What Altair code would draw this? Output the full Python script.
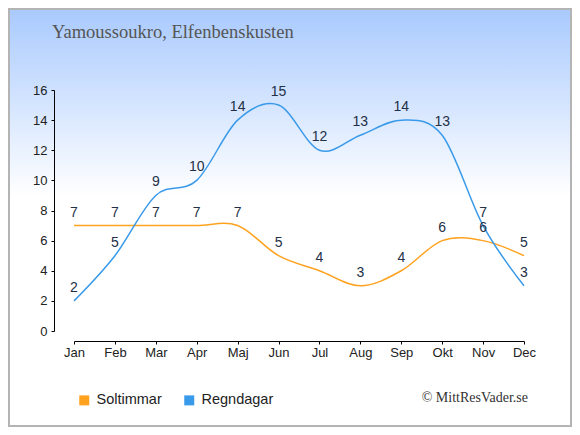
import altair as alt
import pandas as pd

months = ["Jan", "Feb", "Mar", "Apr", "Maj", "Jun", "Jul", "Aug", "Sep", "Okt", "Nov", "Dec"]
soltimmar = [7, 7, 7, 7, 7, 5, 4, 3, 4, 6, 6, 5]
regndagar = [2, 5, 9, 10, 14, 15, 12, 13, 14, 13, 7, 3]
series_names = ["Soltimmar", "Regndagar"]
series_colors = ["#FFA21F", "#3A9AEA"]
y_ticks = [0, 2, 4, 6, 8, 10, 12, 14, 16]
title_text = "Yamoussoukro, Elfenbenskusten"
credit_text = "© MittResVader.se"

rows = []
for name, vals in zip(series_names, [soltimmar, regndagar]):
    for m, v in zip(months, vals):
        rows.append({"month": m, "serie": name, "value": v})
df = pd.DataFrame(rows)
one = pd.DataFrame({"k": [1]})

W, H = 450, 241
PL, PT, PR, PB = 66, 82, 48, 96

x_enc = alt.X("month:N", sort=months, scale=alt.Scale(type="point", padding=0),
              axis=alt.Axis(title=None, labelAngle=0, offset=10, tickSize=3, labelPadding=2,
                            zindex=1, labelOverlap=False))
y_enc = alt.Y("value:Q", scale=alt.Scale(domain=[0, 16], nice=False),
              axis=alt.Axis(title=None, values=y_ticks, tickCount=9, offset=20, tickSize=3,
                            labelPadding=4, grid=False, zindex=1, labelOverlap=False))
color_scale = alt.Scale(domain=series_names, range=series_colors)

bg = alt.Chart(one).mark_rect(
    fill=alt.Gradient(gradient="linear",
                      stops=[alt.GradientStop(color="#a9cafe", offset=0),
                             alt.GradientStop(color="#ffffff", offset=0.45),
                             alt.GradientStop(color="#ffffff", offset=1)],
                      x1=0, x2=0, y1=0, y2=1),
    stroke="#b4b4b4", strokeWidth=2,
).encode(x=alt.value(-PL + 1), x2=alt.value(W + PR - 1),
         y=alt.value(-PT + 1), y2=alt.value(H + PB - 1))

legend_pts = alt.Chart(df).mark_square(size=0, filled=True, opacity=1).encode(
    x=x_enc, y=y_enc,
    color=alt.Color("serie:N", scale=color_scale,
                    legend=alt.Legend(title=None, orient="none", legendX=3, legendY=303,
                                      direction="horizontal", symbolType="square",
                                      symbolSize=100, symbolStrokeWidth=0,
                                      labelFont="Liberation Sans", labelFontSize=14.5,
                                      labelColor="#222222", labelOffset=5,
                                      columnPadding=20, zindex=1)),
)

lines = alt.Chart(df).mark_line(interpolate="cardinal", strokeWidth=1.5).encode(
    x=x_enc, y=y_enc,
    color=alt.Color("serie:N", scale=color_scale),
    detail="serie:N",
)

labels = alt.Chart(df).mark_text(
    dy=-9, baseline="alphabetic", fontSize=14, font="Liberation Sans", color="#233047"
).encode(x=x_enc, y=y_enc, text="value:Q")

title = alt.Chart(one).mark_text(
    text=title_text, font="Liberation Serif", fontSize=18.5, color="#555555",
    align="left", baseline="alphabetic"
).encode(x=alt.value(-22), y=alt.value(-52))

credit = alt.Chart(one).mark_text(
    text=credit_text, font="Liberation Serif", fontSize=14, color="#333333",
    align="right", baseline="middle"
).encode(x=alt.value(454), y=alt.value(308))

chart = alt.layer(bg, legend_pts, lines, labels, title, credit).properties(
    width=W, height=H,
    autosize=alt.AutoSizeParams(type="none"),
    padding={"left": PL, "top": PT, "right": PR, "bottom": PB},
).configure_view(stroke="transparent").configure_axis(
    domainColor="#000000", tickColor="#000000", labelColor="#222222",
    labelFont="Liberation Sans", labelFontSize=13, grid=False,
)

chart.save("out.html", embed_options={"renderer": "svg", "actions": False})
